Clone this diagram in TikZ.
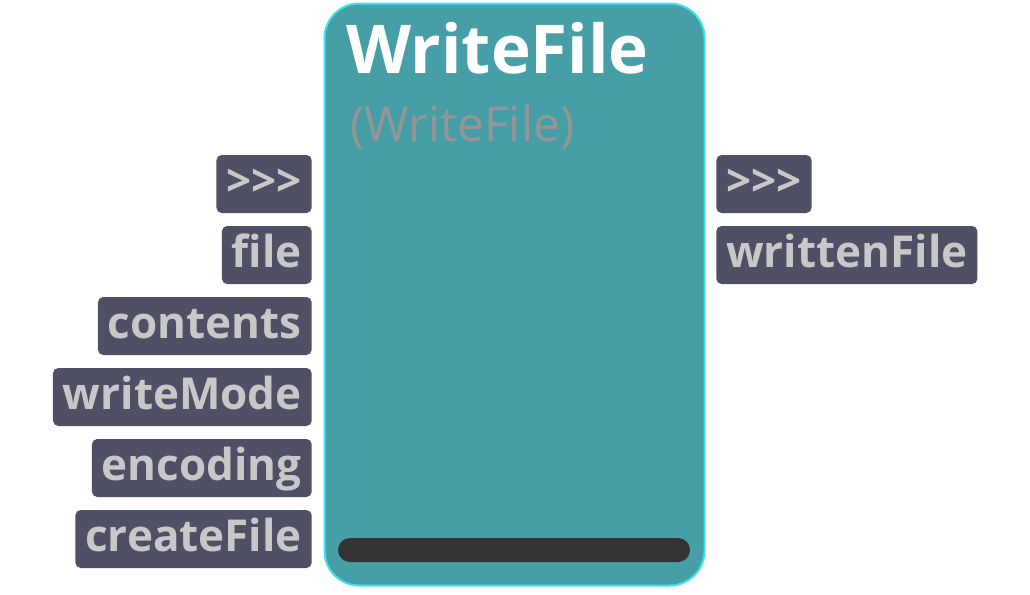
\documentclass[tikz,border=0pt]{standalone}
\usepackage{fontspec}
\setmainfont{Open Sans}
\usepackage{xcolor}
\usepackage{tikz}

\definecolor{nodeteal}{RGB}{70,158,167}
\definecolor{nodeedge}{RGB}{64,226,234}
\definecolor{portbg}{RGB}{79,79,101}
\definecolor{porttext}{RGB}{200,200,200}
\definecolor{subgray}{RGB}{150,150,150}
\definecolor{bardark}{RGB}{51,51,51}

\begin{document}
\begin{tikzpicture}[x=0.75pt,y=-0.75pt,
    block/.style={draw=nodeedge, line width=1.5pt, fill=nodeteal, rounded corners=26pt,
        minimum width=285pt, minimum height=436.5pt, inner sep=0pt},
    port/.style={fill=portbg, rounded corners=4pt, text=porttext,
        font=\fontsize{33}{38}\selectfont\bfseries,
        text height=23pt, text depth=4.5pt, inner xsep=7.5pt, inner ysep=8pt},
    inport/.style={port, anchor=east},
    outport/.style={port, anchor=west}]
        \useasboundingbox (0,0) rectangle (1030,594);

        % Node body
        \node[block] (writefile) at (514.5,294.5) {};
        \node[anchor=base west, text=white, font=\fontsize{50.5}{56}\selectfont\bfseries, inner sep=0pt] (title) at (346,73) {WriteFile};
        \node[anchor=base west, text=subgray, font=\fontsize{36}{42}\selectfont, inner sep=0pt] (subtitle) at (350,141) {(WriteFile)};

        % Inputs
        \node[inport] (in-exec) at (312,184) {>{}>{}>};
        \node[inport] (in-file) at (312,255) {file};
        \node[inport] (in-contents) at (312,326) {contents};
        \node[inport] (in-mode) at (312,397) {writeMode};
        \node[inport] (in-encoding) at (312,468) {encoding};
        \node[inport] (in-create) at (312,539) {createFile};

        % Outputs
        \node[outport] (out-exec) at (716,184) {>{}>{}>};
        \node[outport] (out-file) at (716,255) {writtenFile};

        % Progress bar
        \node[fill=bardark, rounded corners=9pt, minimum width=264pt, minimum height=18pt, inner sep=0pt] (progress) at (514,550) {};
    \end{tikzpicture}
\end{document}
